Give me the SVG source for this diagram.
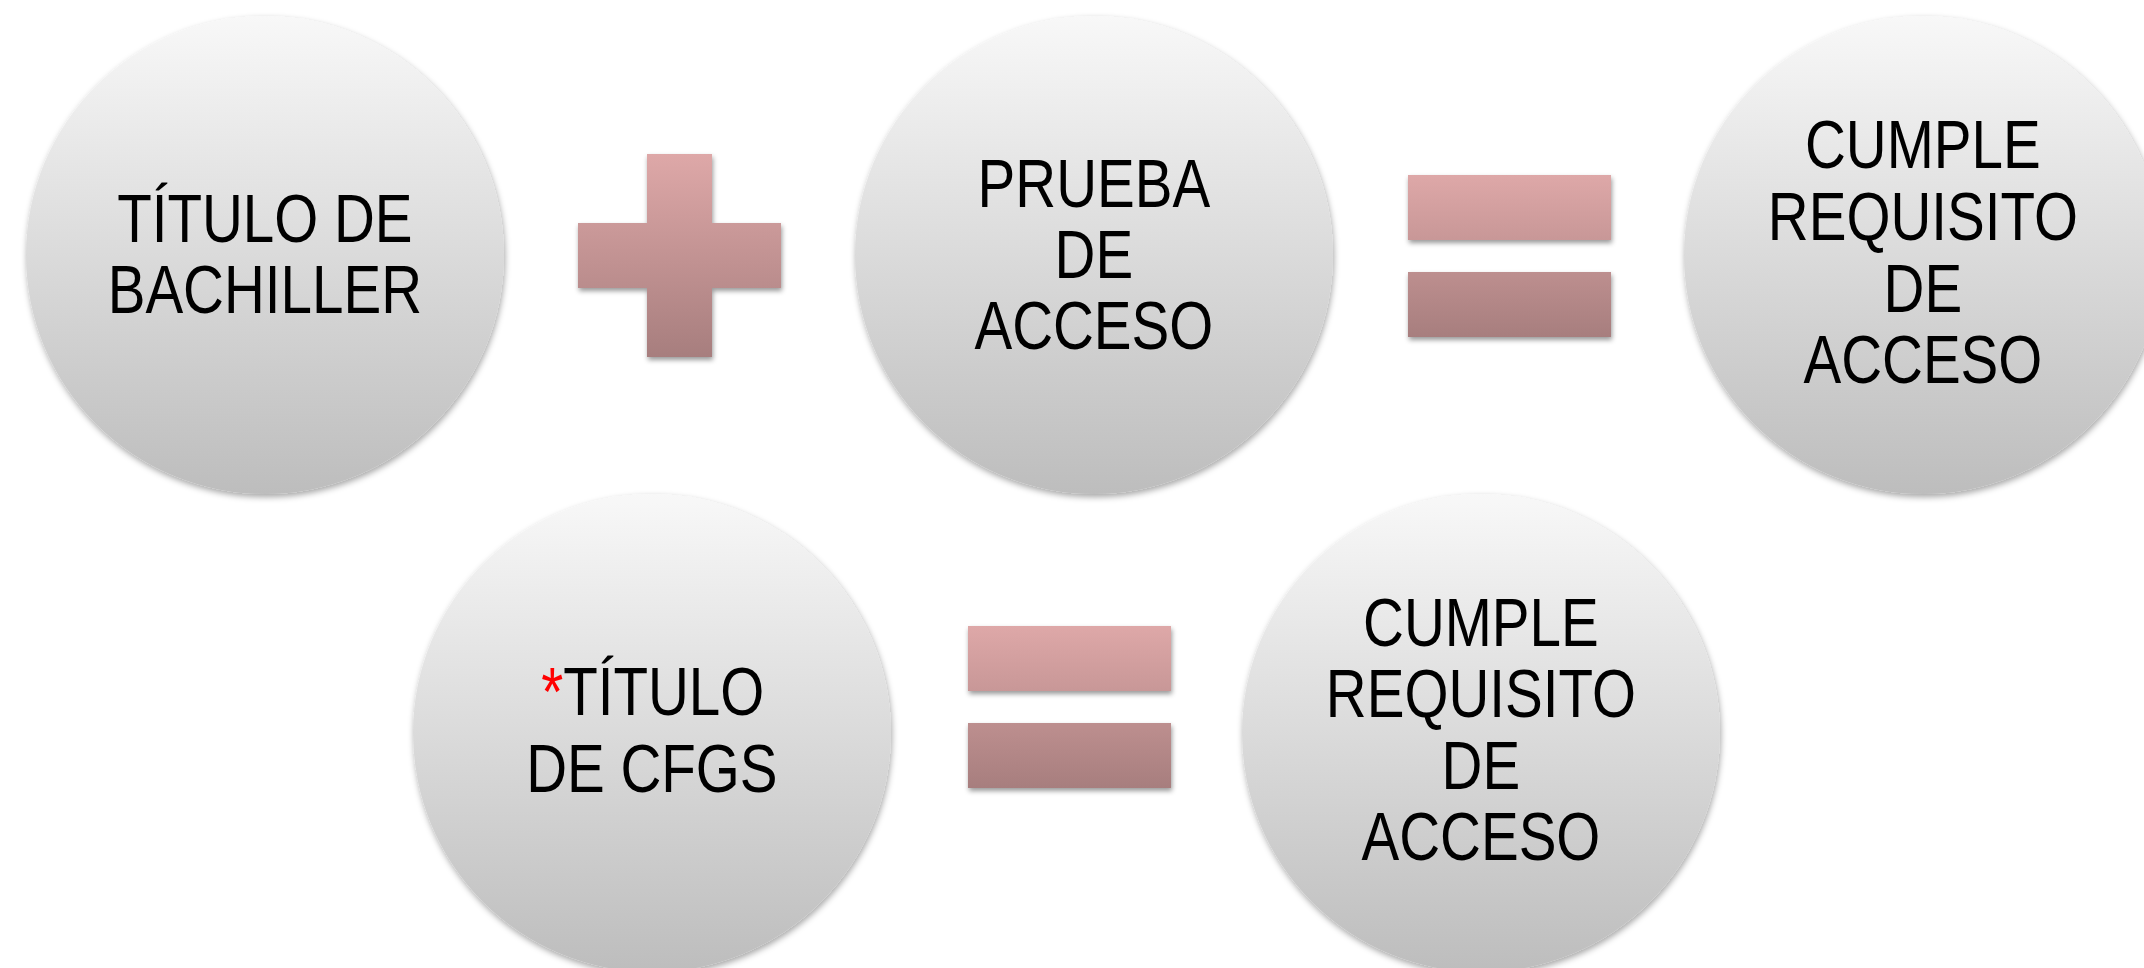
<svg xmlns="http://www.w3.org/2000/svg" width="2144" height="968" viewBox="0 0 2144 968">
<defs>
<linearGradient id="gC" x1="0" y1="0" x2="0" y2="1">
<stop offset="0" stop-color="#f8f8f8"/>
<stop offset="1" stop-color="#bdbdbd"/>
</linearGradient>
<linearGradient id="gP" x1="0" y1="0" x2="0" y2="1">
<stop offset="0" stop-color="#dea8a8"/>
<stop offset="1" stop-color="#a77e7e"/>
</linearGradient>
<filter id="sh" x="-10%" y="-10%" width="120%" height="125%">
<feDropShadow dx="1" dy="3" stdDeviation="3" flood-color="#000" flood-opacity="0.35"/>
</filter>
<filter id="sh2" x="-10%" y="-10%" width="120%" height="125%">
<feDropShadow dx="1" dy="3" stdDeviation="2.5" flood-color="#000" flood-opacity="0.4"/>
</filter>
</defs>
<style>
.c{fill:url(#gC);filter:url(#sh);}
.op{fill:url(#gP);filter:url(#sh2);}
.t{font-family:"Liberation Sans",Arial,sans-serif;font-size:69px;fill:#000;text-anchor:middle;}
.r{fill:#ff0000;}
</style>
<rect width="2144" height="968" fill="#ffffff"/>
<g id="connectors">
<path id="plus" class="op" d="M647 154H712V223H781V288H712V357H647V288H578V223H647Z"/>
<path id="equals1" class="op" d="M1408 175H1611V240H1408ZM1408 272H1611V337H1408Z"/>
<path id="equals2" class="op" d="M968 626H1171V691H968ZM968 723H1171V788H968Z"/>
</g>
<g id="node-bachiller">
<circle class="c" cx="265" cy="255" r="239"/>
<g transform="scale(0.82,1)">
<text class="t" x="323" y="242">TÍTULO DE</text>
<text class="t" x="323" y="313">BACHILLER</text>
</g>
</g>
<g id="node-prueba">
<circle class="c" cx="1094" cy="255" r="239"/>
<g transform="scale(0.82,1)">
<text class="t" x="1334" y="207">PRUEBA</text>
<text class="t" x="1334" y="278">DE</text>
<text class="t" x="1334" y="349">ACCESO</text>
</g>
</g>
<g id="node-cumple1">
<circle class="c" cx="1923" cy="255" r="239"/>
<g transform="scale(0.82,1)">
<text class="t" x="2345" y="168">CUMPLE</text>
<text class="t" x="2345" y="240">REQUISITO</text>
<text class="t" x="2345" y="312">DE</text>
<text class="t" x="2345" y="383">ACCESO</text>
</g>
</g>
<g id="node-cfgs">
<circle class="c" cx="652" cy="733" r="239"/>
<g transform="scale(0.82,1)">
<text class="t" x="796" y="715"><tspan class="r">*</tspan>TÍTULO</text>
<text class="t" x="795" y="792">DE CFGS</text>
</g>
</g>
<g id="node-cumple2">
<circle class="c" cx="1481" cy="733" r="239"/>
<g transform="scale(0.82,1)">
<text class="t" x="1806" y="646">CUMPLE</text>
<text class="t" x="1806" y="717">REQUISITO</text>
<text class="t" x="1806" y="789">DE</text>
<text class="t" x="1806" y="860">ACCESO</text>
</g>
</g>
</svg>
